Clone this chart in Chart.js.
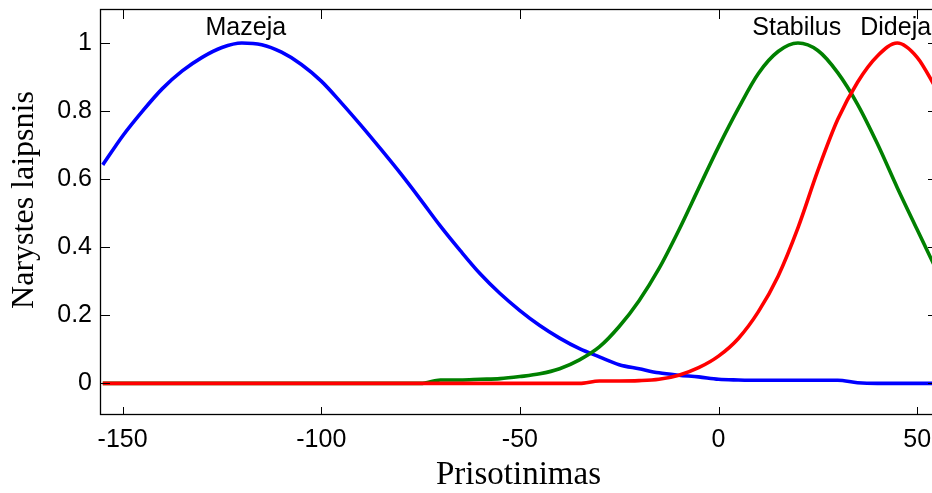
<!DOCTYPE html>
<html>
<head>
<meta charset="utf-8">
<script src="https://cdn.jsdelivr.net/npm/chart.js@4"></script>
<style>
  html, body { margin: 0; padding: 0; background: #fff; overflow: hidden; }
  #wrap { width: 932px; height: 493px; overflow: hidden; position: relative; }
  canvas { display: block; }
</style>
</head>
<body>
<div id="wrap"><canvas id="c" width="945" height="493"></canvas></div>
<script>
// Membership functions of the "Prisotinimas" input
const xValues = [-155, -150, -145, -140, -135, -130, -125, -120, -115, -110, -105, -100,
  -95, -90, -85, -80, -75, -70, -65, -60, -55, -50, -45, -40, -35, -30, -25, -20,
  -15, -10, -5, 0, 5, 10, 15, 20, 25, 30, 35, 40, 45, 50, 55];

const mazeja = [0.642, 0.727, 0.80, 0.866, 0.918, 0.958, 0.987, 1.0, 0.995, 0.973, 0.937, 0.888,
  0.825, 0.758, 0.688, 0.616, 0.540, 0.462, 0.390, 0.322, 0.264, 0.214, 0.170, 0.133, 0.102, 0.078, 0.055, 0.043,
  0.031, 0.024, 0.019, 0.012, 0.010, 0.009, 0.009, 0.009, 0.009, 0.009, 0.002, 0, 0, 0, 0];

const stabilus = [0, 0, 0, 0, 0, 0, 0, 0, 0, 0, 0, 0,
  0, 0, 0, 0, 0, 0.010, 0.010, 0.012, 0.014, 0.02, 0.028, 0.043, 0.069, 0.107, 0.167, 0.243,
  0.337, 0.45, 0.573, 0.695, 0.808, 0.91, 0.975, 1.0, 0.978, 0.913, 0.82, 0.704, 0.575, 0.452, 0.33];

const dideja = [0, 0, 0, 0, 0, 0, 0, 0, 0, 0, 0, 0,
  0, 0, 0, 0, 0, 0, 0, 0, 0, 0, 0, 0, 0, 0.007, 0.007, 0.008,
  0.012, 0.024, 0.046, 0.08, 0.132, 0.21, 0.315, 0.457, 0.625, 0.775, 0.885, 0.962, 1.0, 0.958, 0.862];

const xTicks = [-150, -100, -50, 0, 50];
const yTicks = [0, 0.2, 0.4, 0.6, 0.8, 1];
const yTickLabels = ['0', '0.2', '0.4', '0.6', '0.8', '1'];

// Term names and the centres they are written over
const termNames = ['Mazeja', 'Stabilus', 'Dideja'];
const termCentres = [-119, 19.7, 44.6];

const toPoints = (ys) => ys.map((y, i) => ({ x: xValues[i], y }));

const sansFont = "'Liberation Sans', Arial, sans-serif";
const serifFont = "'Liberation Serif', 'Times New Roman', serif";

// Boxed axes with inward tick marks on all four sides
const framePlugin = {
  id: 'frame',
  afterDatasetsDraw(chart) {
    const { ctx, chartArea: a, scales: { x, y } } = chart;
    ctx.save();
    ctx.strokeStyle = '#000';
    ctx.lineWidth = 1;
    ctx.beginPath();
    xTicks.forEach(v => {
      const px = Math.round(x.getPixelForValue(v)) + 0.5;
      ctx.moveTo(px, a.bottom); ctx.lineTo(px, a.bottom - 7);
      ctx.moveTo(px, a.top); ctx.lineTo(px, a.top + 10);
    });
    yTicks.forEach(v => {
      const py = Math.round(y.getPixelForValue(v)) + 0.5;
      ctx.moveTo(a.left, py); ctx.lineTo(a.left + 10, py);
      ctx.moveTo(a.right, py); ctx.lineTo(a.right - 9, py);
    });
    ctx.stroke();
    ctx.lineWidth = 1.3;
    ctx.strokeRect(a.left + 0.5, a.top + 0.5, a.right - a.left, a.bottom - a.top);

    // term names above each curve's peak
    ctx.fillStyle = '#000';
    ctx.font = '25px ' + sansFont;
    ctx.textAlign = 'center';
    ctx.textBaseline = 'alphabetic';
    const base = y.getPixelForValue(1) - 8;
    termNames.forEach((t, i) => {
      ctx.fillText(t, x.getPixelForValue(termCentres[i]), base);
    });

    // vertical axis title
    ctx.save();
    ctx.translate(25, 200);
    ctx.rotate(-Math.PI / 2);
    ctx.font = '32px ' + serifFont;
    ctx.textAlign = 'center';
    ctx.textBaseline = 'middle';
    ctx.fillText('Narystes laipsnis', 0, 0);
    ctx.restore();
    ctx.restore();
  }
};

const lineStyle = { borderWidth: 3.6, pointRadius: 0, fill: false, cubicInterpolationMode: 'monotone' };

new Chart(document.getElementById('c'), {
  type: 'line',
  data: {
    datasets: [
      { label: 'Mazeja', data: toPoints(mazeja), borderColor: '#0000ff', order: 3, ...lineStyle },
      { label: 'Stabilus', data: toPoints(stabilus), borderColor: '#008000', order: 2, ...lineStyle },
      { label: 'Dideja', data: toPoints(dideja), borderColor: '#ff0000', order: 1, ...lineStyle }
    ]
  },
  options: {
    responsive: false,
    animation: false,
    devicePixelRatio: 1,
    layout: { padding: { left: 0, top: 9, right: 8, bottom: 0 } },
    plugins: { legend: { display: false }, tooltip: { enabled: false } },
    scales: {
      x: {
        type: 'linear',
        min: -155.7,
        max: 55,
        grid: { display: false, drawTicks: false },
        border: { display: false },
        afterBuildTicks: (s) => { s.ticks = xTicks.map(v => ({ value: v })); },
        afterFit: (s) => { s.height = 79; s.paddingLeft = 0; s.paddingRight = 0; },
        ticks: {
          color: '#000',
          padding: 11,
          font: { family: sansFont, size: 25 },
          callback: (v) => String(v)
        },
        title: {
          display: true,
          text: 'Prisotinimas',
          color: '#000',
          font: { family: serifFont, size: 33 },
          padding: { top: 0, bottom: -2 }
        }
      },
      y: {
        type: 'linear',
        min: -0.09,
        max: 1.1,
        grid: { display: false, drawTicks: false },
        border: { display: false },
        afterBuildTicks: (s) => { s.ticks = yTicks.map(v => ({ value: v })); },
        afterFit: (s) => { s.width = 100; s.paddingTop = 0; s.paddingBottom = 0; },
        ticks: {
          color: '#000',
          padding: 8,
          font: { family: sansFont, size: 25 },
          callback: (v) => yTickLabels[yTicks.indexOf(v)] ?? ''
        }
      }
    }
  },
  plugins: [framePlugin]
});
</script>
</body>
</html>
